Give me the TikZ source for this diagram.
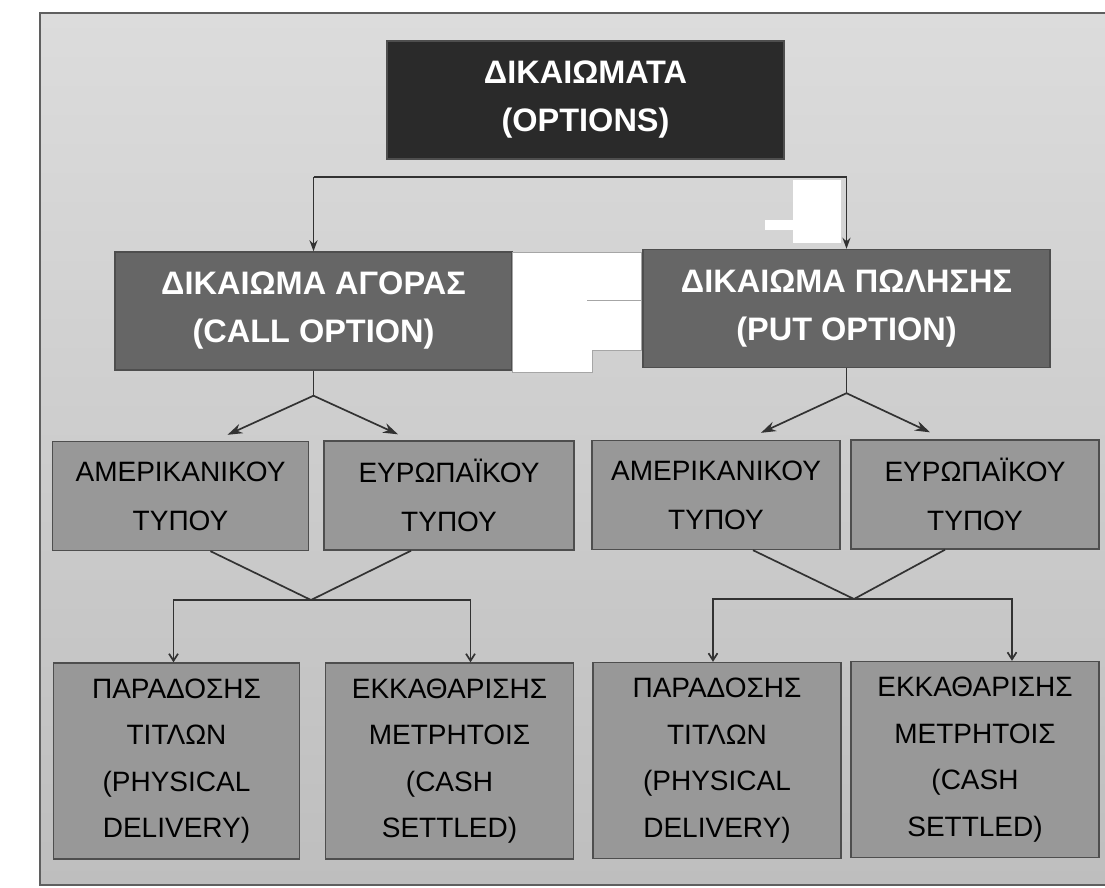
\documentclass[tikz,border=0pt]{standalone}
\usepackage{fontspec}
\setmainfont{Liberation Sans}
\usepackage{tikz}
\usetikzlibrary{arrows.meta, calc}
\definecolor{paperlight}{RGB}{220, 220, 220}
\definecolor{paper}{RGB}{190, 190, 190}
\definecolor{framegray}{RGB}{95, 95, 95}
\definecolor{darkbox}{RGB}{42, 42, 42}
\definecolor{midbox}{RGB}{102, 102, 102}
\definecolor{lightbox}{RGB}{152, 152, 152}
\definecolor{boxedge}{RGB}{78, 78, 78}
\definecolor{linegray}{RGB}{50, 50, 50}

\begin{document}
\begin{tikzpicture}[x=1pt,y=-1pt,
          box/.style={draw=boxedge,line width=1.4pt,align=center,inner sep=0pt},
          headbox/.style={box,fill=midbox,text=white,minimum height=118pt,
                      font=\fontsize{32.5}{48}\selectfont\bfseries},
          typebox/.style={box,fill=lightbox,minimum width=250pt,minimum height=109pt,
                      font=\fontsize{28}{49}\selectfont},
          kindbox/.style={box,fill=lightbox,minimum width=248pt,minimum height=196pt,
                      font=\fontsize{28}{46.5}\selectfont},
          link/.style={draw=linegray,line width=1.7pt},
          toptip/.style={link,-{Stealth[length=11pt,width=8pt]}},
          midtip/.style={link,-{Stealth[length=15pt,width=10pt]}},
          lowtip/.style={link,-{Straight Barb[length=7pt,width=9pt]}}]
        \useasboundingbox (0,0) rectangle (1105,887);
        \fill[top color=paperlight,bottom color=paper] (40,13) rectangle (1120,885);
        \draw[framegray,line width=2.5pt] (1120,13) -- (40,13) -- (40,885) -- (1120,885);
        \node[headbox,fill=darkbox,minimum width=397pt](opt) at (585.5,100){
          \raisebox{-4pt}{ΔΙΚΑΙΩΜΑΤΑ}\\\raisebox{-4pt}{(OPTIONS)}
        };
        \node[headbox,minimum width=397pt](call) at (313.5,311){
          ΔΙΚΑΙΩΜΑ ΑΓΟΡΑΣ\\(CALL OPTION)
        };
        \node[headbox,minimum width=407pt](put) at (846.5,308.5){
          ΔΙΚΑΙΩΜΑ ΠΩΛΗΣΗΣ\\(PUT OPTION)
        };
        \node[typebox,minimum width=256pt](amcall) at (180.5,496){ΑΜΕΡΙΚΑΝΙΚΟΥ\\ΤΥΠΟΥ};
        \node[typebox](eucall) at (449,495.5){ΕΥΡΩΠΑΪΚΟΥ\\ΤΥΠΟΥ};
        \node[typebox,minimum width=248pt](amput) at (716,495){ΑΜΕΡΙΚΑΝΙΚΟΥ\\ΤΥΠΟΥ};
        \node[typebox,minimum width=248pt](euput) at (975,494.5){ΕΥΡΩΠΑΪΚΟΥ\\ΤΥΠΟΥ};
        \node[kindbox,minimum width=246pt](pdcall) at (176.5,761){ΠΑΡΑΔΟΣΗΣ\\ΤΙΤΛΩΝ\\(PHYSICAL\\DELIVERY)};
        \node[kindbox](cscall) at (449.5,761){ΕΚΚΑΘΑΡΙΣΗΣ\\ΜΕΤΡΗΤΟΙΣ\\(CASH\\SETTLED)};
        \node[kindbox](pdput) at (717,760.5){ΠΑΡΑΔΟΣΗΣ\\ΤΙΤΛΩΝ\\(PHYSICAL\\DELIVERY)};
        \node[kindbox](csput) at (975,759.5){ΕΚΚΑΘΑΡΙΣΗΣ\\ΜΕΤΡΗΤΟΙΣ\\(CASH\\SETTLED)};
        \coordinate (bar) at (577,177);
        \draw[toptip] (call.north |- bar) -- (call.north);
        \draw[toptip] (call.north |- bar) -| (put.north);
        \coordinate (callfork) at ($(call.south)+(0,25)$);
        \coordinate (putfork) at ($(put.south)+(0,25)$);
        \draw[link] (call.south) -- (callfork);
        \draw[midtip] (callfork) -- ($(amcall.north)+(47,-6)$);
        \draw[midtip] (callfork) -- ($(eucall.north)+(-51,-6)$);
        \draw[link] (put.south) -- (putfork);
        \draw[midtip] (putfork) -- ($(amput.north)+(45,-7)$);
        \draw[midtip] (putfork) -- ($(euput.north)+(-45,-7)$);
        \coordinate (calljoin) at (311,600);
        \coordinate (putjoin) at (854,599);
        \draw[link] ($(amcall.south)+(30,0)$) -- (calljoin) -- ($(eucall.south)+(-38,0)$);
        \draw[link] ($(amput.south)+(37,0)$) -- (putjoin) -- ($(euput.south)+(-30,0)$);
        \draw[lowtip] (calljoin) -| ($(pdcall.north)+(-3,0)$);
        \draw[lowtip] (calljoin) -| ($(cscall.north)+(21,0)$);
        \draw[lowtip] (putjoin) -| ($(pdput.north)+(-4,0)$);
        \draw[lowtip] (putjoin) -| ($(csput.north)+(37,0)$);
        \fill[white,draw=gray!70,line width=0.6pt] (512,252) -- (641,252) -- (641,350)
          -- (592,350) -- (592,372) -- (512,372) -- cycle;
        \draw[gray!70,line width=0.6pt] (587,300) -- (641,300);
        \fill[white] (793,180) rectangle (841,243);
        \fill[white] (765,220) rectangle (793,230);
      \end{tikzpicture}
\end{document}
